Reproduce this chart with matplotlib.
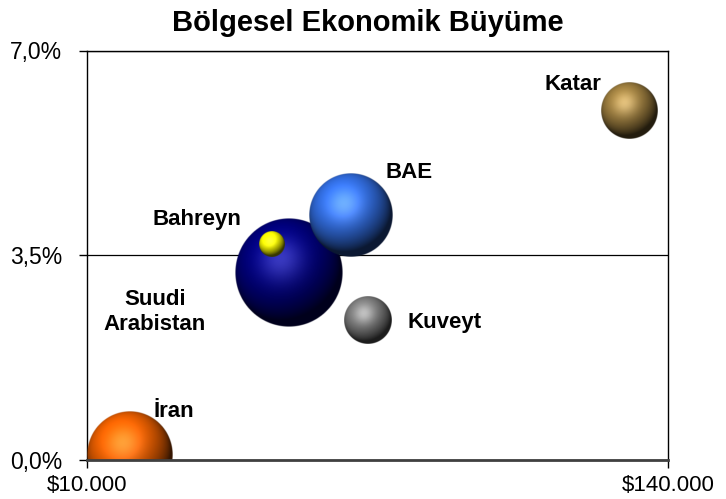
import matplotlib
matplotlib.use("Agg")
import matplotlib.pyplot as plt
import numpy as np
from matplotlib.colors import to_rgb
from matplotlib.ticker import FuncFormatter

plt.rcParams['font.family'] = ['Liberation Sans', 'DejaVu Sans']

# data (drawing order: biggest bubble first, like Excel)
countries = ['Suudi\nArabistan', 'İran', 'BAE', 'Katar', 'Kuveyt', 'Bahreyn']
gdp_per_capita = [55200, 19600, 69100, 131300, 72800, 51300]
growth = [3.20, 0.09, 4.19, 5.97, 2.39, 3.69]
bubble_size = [100, 63, 60, 27, 19, 5.4]

x_ticks = [10000, 140000]
y_ticks = [0.0, 3.5, 7.0]

# styles
colors = ['#000080', '#F26200', '#3370E6', '#A08040', '#808080', '#FFFF00']
label_offsets = {'Suudi\nArabistan': (-134, -39), 'İran': (44, 38), 'BAE': (58, 37),
                 'Katar': (-56, 21), 'Kuveyt': (77, -8), 'Bahreyn': (-75, 19)}
max_radius_px = 54


def sphere_image(color, n=240):
    base = np.array(to_rgb(color))
    t = np.linspace(-1, 1, n)
    X, Y = np.meshgrid(t, t)
    rr = X**2 + Y**2
    Z = np.sqrt(np.clip(1 - rr, 0, 1))
    L = np.array([-0.30, 0.50, 0.85])
    L /= np.linalg.norm(L)
    diff = np.clip(X * L[0] + Y * L[1] + Z * L[2], 0, 1)
    H = L + np.array([0, 0, 1.0])
    H /= np.linalg.norm(H)
    spec = np.clip(X * H[0] + Y * H[1] + Z * H[2], 0, 1) ** 12
    rgb = base * (0.22 + 0.88 * diff)[..., None] + 0.22 * spec[..., None]
    rgb = np.clip(rgb, 0, 1)
    alpha = np.clip((1 - np.sqrt(rr)) * n / 2, 0, 1)
    return np.dstack([rgb, alpha])


fig = plt.figure(figsize=(7.26, 4.99), dpi=100)
ax = fig.add_axes([87 / 726, 39 / 499, 581 / 726, 409.5 / 499])
ax.set_xlim(x_ticks[0], x_ticks[-1])
ax.set_ylim(y_ticks[0], y_ticks[-1])

bbox = ax.get_window_extent()
sx = (x_ticks[-1] - x_ticks[0]) / bbox.width
sy = (y_ticks[-1] - y_ticks[0]) / bbox.height

for i, name in enumerate(countries):
    r = max_radius_px * np.sqrt(bubble_size[i] / max(bubble_size))
    x, y = gdp_per_capita[i], growth[i]
    ax.imshow(sphere_image(colors[i]), origin='lower', interpolation='bilinear',
              extent=[x - r * sx, x + r * sx, y - r * sy, y + r * sy],
              aspect='auto', zorder=3 + i)
    dx, dy = label_offsets[name]
    ax.annotate(name, (x, y), xytext=(dx, dy), textcoords='offset pixels',
                ha='center', va='center' if '\n' in name else 'baseline',
                fontsize=16, fontweight='bold', zorder=20,
                linespacing=1.25)

ax.set_xlim(x_ticks[0], x_ticks[-1])
ax.set_ylim(y_ticks[0], y_ticks[-1])

ax.set_xticks(x_ticks)
ax.set_yticks(y_ticks)
ax.xaxis.set_major_formatter(FuncFormatter(lambda v, p: '$' + f'{v:,.0f}'.replace(',', '.')))
ax.yaxis.set_major_formatter(FuncFormatter(lambda v, p: f'{v:.1f}'.replace('.', ',') + '%'))
ax.tick_params(axis='y', direction='out', length=6, width=1, pad=12, labelsize=16.5)
ax.tick_params(axis='x', direction='out', length=6, width=1, pad=5, labelsize=16)

ax.yaxis.grid(True, color='black', linewidth=0.9)
ax.set_axisbelow(True)
for s in ['left', 'right', 'top']:
    ax.spines[s].set_linewidth(1)
    ax.spines[s].set_color('black')
ax.spines['bottom'].set_color('#404040')
ax.spines['bottom'].set_linewidth(2)
ax.spines['bottom'].set_zorder(30)

fig.text(0.506, 1 - 31 / 499, 'Bölgesel Ekonomik Büyüme', ha='center', va='baseline',
         fontsize=21, fontweight='bold')

fig.savefig('out.png', dpi=100)
